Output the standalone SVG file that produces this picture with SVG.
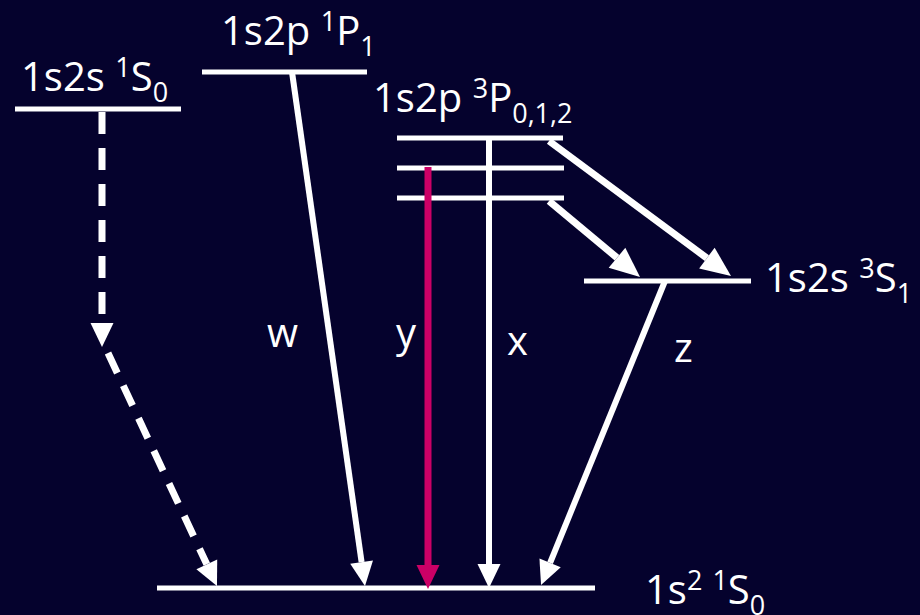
<svg xmlns="http://www.w3.org/2000/svg" width="920" height="615" viewBox="0 0 920 615">
<style>
.bg{fill:#05022d}
.lvl{stroke:#fff;stroke-width:5;fill:none}
.t{font-family:"Open Sans","Noto Sans",sans-serif;font-size:40px;fill:#fff}
.s{font-size:27px}
.l{font-family:"Open Sans","Noto Sans",sans-serif;font-size:40px;fill:#fff}
.a{stroke:#fff;stroke-width:6;fill:none}
.ad{stroke:#fff;stroke-width:7;fill:none;stroke-dasharray:22 14}
.ab{stroke:#fff;stroke-width:7;fill:none}
.am{stroke:#cc0066;stroke-width:7;fill:none}
</style>
<defs>
<marker id="h" markerUnits="userSpaceOnUse" markerWidth="24" markerHeight="23" refX="0" refY="11.5" orient="auto" overflow="visible"><path d="M0,0 L24,11.5 L0,23 z" fill="#fff"/></marker>
<marker id="hm" markerUnits="userSpaceOnUse" markerWidth="24" markerHeight="23" refX="0" refY="11.5" orient="auto" overflow="visible"><path d="M0,0 L24,11.5 L0,23 z" fill="#cc0066"/></marker>
<marker id="hb" markerUnits="userSpaceOnUse" markerWidth="30" markerHeight="26" refX="0" refY="13" orient="auto" overflow="visible"><path d="M0,0 L30,13 L0,26 z" fill="#fff"/></marker>
</defs>
<rect class="bg" x="0" y="0" width="920" height="615"/>
<g id="lvl-1s2s-1S0">
<line class="lvl" x1="15" y1="109" x2="181" y2="109"/>
<text class="t" x="21" y="91">1s2s <tspan class="s" dy="-14">1</tspan><tspan dy="14">S</tspan><tspan class="s" dy="11">0</tspan></text>
</g>
<g id="lvl-1s2p-1P1">
<line class="lvl" x1="202" y1="72" x2="367" y2="72"/>
<text class="t" x="221" y="45">1s2p <tspan class="s" dy="-14">1</tspan><tspan dy="14">P</tspan><tspan class="s" dy="11">1</tspan></text>
</g>
<g id="lvl-1s2p-3P">
<line class="lvl" x1="397" y1="138" x2="563" y2="138"/>
<line class="lvl" x1="397" y1="168" x2="564" y2="168"/>
<line class="lvl" x1="397" y1="198" x2="564" y2="198"/>
<text class="t" x="373" y="112">1s2p <tspan class="s" dy="-14">3</tspan><tspan dy="14">P</tspan><tspan class="s" dy="11">0,1,2</tspan></text>
</g>
<g id="lvl-1s2s-3S1">
<line class="lvl" x1="584" y1="281" x2="751" y2="281"/>
<text class="t" x="765" y="292">1s2s <tspan class="s" dy="-14">3</tspan><tspan dy="14">S</tspan><tspan class="s" dy="11">1</tspan></text>
</g>
<g id="lvl-1s2-1S0">
<line class="lvl" x1="157" y1="588" x2="595" y2="588"/>
<text class="t" x="645" y="604">1s<tspan class="s" dy="-14">2</tspan><tspan class="s" dx="10">1</tspan><tspan dy="14">S</tspan><tspan class="s" dy="11">0</tspan></text>
</g>
<g id="connectors">
<line class="ad" x1="102" y1="112" x2="102" y2="323" marker-end="url(#h)"/>
<line class="ad" x1="108" y1="353" x2="206.8" y2="564.3" marker-end="url(#h)"/>
<line class="a" x1="292" y1="72" x2="361.6" y2="562.2" marker-end="url(#h)"/>
<line class="am" x1="428" y1="167" x2="428" y2="565" marker-end="url(#hm)"/>
<line class="a" x1="489" y1="138" x2="489" y2="564" marker-end="url(#h)"/>
<line class="a" x1="665" y1="281" x2="550.1" y2="562.8" marker-end="url(#h)"/>
<line class="ab" x1="549" y1="141" x2="706.9" y2="258.1" marker-end="url(#hb)"/>
<line class="ab" x1="549" y1="201" x2="617" y2="257.8" marker-end="url(#hb)"/>
<text class="l" x="267" y="347">w</text>
<text class="l" x="396" y="347">y</text>
<text class="l" x="507" y="355">x</text>
<text class="l" x="674" y="362">z</text>
</g>
</svg>
